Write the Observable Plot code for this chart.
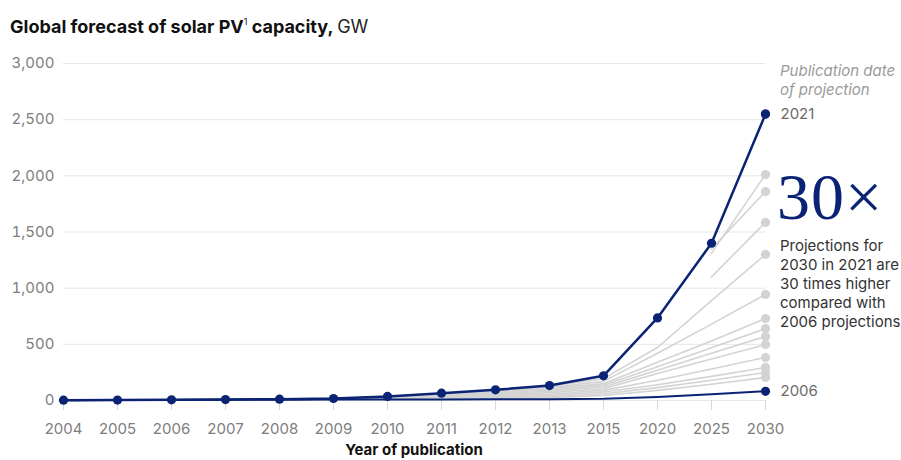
<!DOCTYPE html>
<html><head><meta charset="utf-8">
<script src="https://cdn.jsdelivr.net/npm/d3@7"></script>
<script src="https://cdn.jsdelivr.net/npm/@observablehq/plot@0.6"></script>
<style>
body{margin:0;background:#fff;font-family:Inter,"Liberation Sans",sans-serif;}
#wrap{position:relative;width:901px;height:460px;overflow:hidden;background:#fff}
#title{position:absolute;left:10px;top:11px;font-size:18px;line-height:21px;font-weight:700;color:#111;white-space:nowrap}
#title .unit{font-weight:400;color:#222}
#title sup{font-size:9px;font-weight:400;vertical-align:8px}
#chart{position:absolute;left:0;top:40px}
.note{position:absolute;left:780px;font-size:15px;line-height:19px;white-space:nowrap}
#pub{top:61px;font-style:italic;color:#9a9a9a}
#big{top:177px;left:777px;font-family:"Liberation Serif","DejaVu Serif",serif;font-size:66px;line-height:40px;height:40px;letter-spacing:1px;color:#0b2374}
#desc{top:236px;color:#333}
#xlab{position:absolute;top:440px;left:0;width:828px;text-align:center;font-size:15px;font-weight:700;color:#111}
</style></head>
<body>
<div id="wrap">
  <div id="title">Global forecast of solar PV<sup>1</sup> capacity, <span class="unit">GW</span></div>
  <div id="chart"></div>
  <div class="note" id="pub">Publication date<br>of projection</div>
  <div class="note" id="big">30×</div>
  <div class="note" id="desc">Projections for<br>2030 in 2021 are<br>30 times higher<br>compared with<br>2006 projections</div>
  <div id="xlab">Year of publication</div>
</div>
<script>
const periods = ["2004","2005","2006","2007","2008","2009","2010","2011","2012","2013","2015","2020","2025","2030"];
const yTicks = [0, 500, 1000, 1500, 2000, 2500, 3000];

// 2021 publication (history + projection)
const proj2021 = [3, 4, 6, 8, 12, 18, 36, 65, 95, 133, 220, 735, 1400, 2550];
// 2006 publication
const proj2006 = [3, 4, 5, 6, 7, 8, 9, 10, 11, 12, 16, 32, 55, 82];
// other publications (grey)
const grayProjections = [
  [3, 4, 5, 6, 7, 9, 12, 16, 20, 26, 45, 90, 145, 205],
  [3, 4, 5, 6, 8, 10, 15, 20, 26, 34, 60, 115, 180, 249],
  [3, 4, 5, 7, 9, 12, 18, 25, 33, 44, 75, 140, 215, 294],
  [3, 4, 6, 7, 10, 13, 21, 31, 42, 56, 90, 180, 280, 383],
  [3, 4, 6, 8, 10, 14, 24, 37, 52, 70, 105, 240, 370, 498],
  [3, 4, 6, 8, 11, 15, 26, 42, 60, 82, 120, 270, 420, 570],
  [3, 4, 6, 8, 11, 16, 28, 47, 68, 94, 135, 300, 470, 641],
  [3, 4, 6, 8, 12, 16, 30, 52, 76, 106, 150, 340, 530, 730],
  [3, 4, 6, 8, 12, 17, 32, 56, 84, 116, 170, 420, 680, 944],
  [3, 4, 6, 8, 12, 17, 34, 60, 90, 125, 195, 472, 890, 1300],
  [null, null, null, null, null, null, null, null, null, null, null, null, 1100, 1585],
  [null, null, null, null, null, null, null, null, null, null, null, null, 1350, 1860],
  [null, null, null, null, null, null, null, null, null, null, null, null, 1310, 2012]
];
const endLabels = ["2021", "2006"];

const blue = "#0b2374";
const grey = "#d3d3d3";

const toRows = (vals, series) => vals.map((v, j) => ({series, period: periods[j], value: v})).filter(d => d.value != null);
const gray = grayProjections.flatMap((vals, i) => toRows(vals, "g" + i));
const grayEnds = gray.filter(d => d.period === "2030");
const r2021 = toRows(proj2021, endLabels[0]);
const r2006 = toRows(proj2006, endLabels[1]);
const ends = [r2021[r2021.length - 1], r2006[r2006.length - 1]];

const chart = Plot.plot({
  width: 901,
  height: 420,
  marginLeft: 63,
  marginRight: 136,
  marginTop: 23,
  marginBottom: 60,
  x: {type: "point", domain: periods, padding: 0},
  y: {domain: [0, 3000]},
  style: {fontFamily: "Inter, 'Liberation Sans', sans-serif", fontSize: "15px", background: "#fff"},
  marks: [
    Plot.ruleY(yTicks, {stroke: "#e6e6e6", strokeWidth: 1}),
    Plot.axisY(yTicks, {tickSize: 0, tickPadding: 9, tickFormat: d3.format(","), label: null, fill: "#7d7d7d", fontSize: 15}),
    Plot.axisX({tickSize: 10, tickPadding: 13, label: null, stroke: "#d8d8d8", fill: "#7d7d7d", fontSize: 15}),
    Plot.line(gray, {x: "period", y: "value", z: "series", stroke: grey, strokeWidth: 1.6}),
    Plot.dot(grayEnds, {x: "period", y: "value", r: 4.6, fill: grey}),
    Plot.line(r2006, {x: "period", y: "value", stroke: blue, strokeWidth: 2}),
    Plot.line(r2021, {x: "period", y: "value", stroke: blue, strokeWidth: 2.5}),
    Plot.dot(r2021, {x: "period", y: "value", r: 4.6, fill: blue}),
    Plot.dot(ends, {x: "period", y: "value", r: 4.6, fill: blue}),
    Plot.text(ends, {x: "period", y: "value", text: "series", dx: 15, textAnchor: "start", fill: "#6b6b6b", fontSize: 15})
  ]
});
document.getElementById("chart").appendChild(chart);
</script>
</body></html>
